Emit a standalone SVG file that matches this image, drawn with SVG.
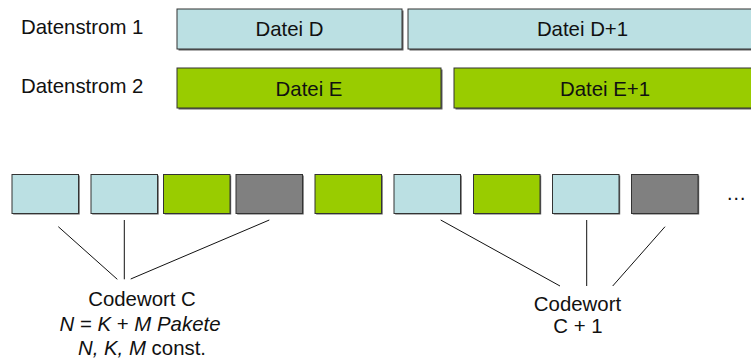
<svg xmlns="http://www.w3.org/2000/svg" width="751" height="360" viewBox="0 0 751 360">
<defs>
<style>
text{font-family:"Liberation Sans",Arial,sans-serif;font-size:20.4px;fill:#111;}
.c{text-anchor:middle;}
.i{font-style:italic;}
.sh{fill:#5f5f5f;}
.blue{fill:#BBE0E3;stroke:#333;stroke-width:1;}
.green{fill:#99CC00;stroke:#333;stroke-width:1;}
.gray{fill:#808080;stroke:#333;stroke-width:1;}
.ln{stroke:#111;stroke-width:1;fill:none;}
</style>
</defs>
<rect width="751" height="360" fill="#fff"/>
<g id="label-stream1"><text x="21" y="33.5">Datenstrom 1</text></g>
<g id="label-stream2"><text x="21" y="93">Datenstrom 2</text></g>
<g id="file-D"><rect class="sh" x="178.5" y="10.5" width="225" height="40"/><rect class="blue" x="177" y="9" width="225" height="40"/><text class="c" x="289.5" y="36">Datei D</text></g>
<g id="file-D1"><rect class="sh" x="409.5" y="10.5" width="349" height="40"/><rect class="blue" x="408" y="9" width="349" height="40"/><text class="c" x="582.5" y="36">Datei D+1</text></g>
<g id="file-E"><rect class="sh" x="178.5" y="69.5" width="264" height="40"/><rect class="green" x="177" y="68" width="264" height="40"/><text class="c" x="309" y="95.5">Datei E</text></g>
<g id="file-E1"><rect class="sh" x="455.5" y="69.5" width="302" height="40"/><rect class="green" x="454" y="68" width="302" height="40"/><text class="c" x="605" y="95.5">Datei E+1</text></g>
<g id="packets">
<g id="p1"><rect class="sh" x="13.2" y="175.5" width="66.5" height="39"/><rect class="blue" x="12" y="174.5" width="66.5" height="39"/></g>
<g id="p2"><rect class="sh" x="92.2" y="175.5" width="66.5" height="39"/><rect class="blue" x="91" y="174.5" width="66.5" height="39"/></g>
<g id="p3"><rect class="sh" x="164.7" y="175.5" width="66.5" height="39"/><rect class="green" x="163.5" y="174.5" width="66.5" height="39"/></g>
<g id="p4"><rect class="sh" x="237.2" y="175.5" width="66.5" height="39"/><rect class="gray" x="236" y="174.5" width="66.5" height="39"/></g>
<g id="p5"><rect class="sh" x="316.2" y="175.5" width="66.5" height="39"/><rect class="green" x="315" y="174.5" width="66.5" height="39"/></g>
<g id="p6"><rect class="sh" x="395.2" y="175.5" width="66.5" height="39"/><rect class="blue" x="394" y="174.5" width="66.5" height="39"/></g>
<g id="p7"><rect class="sh" x="474.7" y="175.5" width="66.5" height="39"/><rect class="green" x="473.5" y="174.5" width="66.5" height="39"/></g>
<g id="p8"><rect class="sh" x="553.7" y="175.5" width="66.5" height="39"/><rect class="blue" x="552.5" y="174.5" width="66.5" height="39"/></g>
<g id="p9"><rect class="sh" x="632.7" y="175.5" width="66.5" height="39"/><rect class="gray" x="631.5" y="174.5" width="66.5" height="39"/></g>
</g>
<g id="ellipsis"><text x="726" y="200">…</text></g>
<g id="connectors">
<line class="ln" x1="58.3" y1="226.7" x2="117.3" y2="279.3"/>
<line class="ln" x1="124.3" y1="220" x2="124.3" y2="279.3"/>
<line class="ln" x1="269.3" y1="220" x2="130.7" y2="279"/>
<line class="ln" x1="440.7" y1="220" x2="560" y2="286"/>
<line class="ln" x1="586.7" y1="220" x2="586.7" y2="286"/>
<line class="ln" x1="665" y1="226.7" x2="612.7" y2="286"/>
</g>
<g id="codeword-C">
<text class="c" x="142" y="305.5">Codewort C</text>
<text class="c" x="140" y="330.5"><tspan class="i">N</tspan> = <tspan class="i">K</tspan> + <tspan class="i">M Pakete</tspan></text>
<text class="c" x="142" y="355"><tspan class="i">N, K, M</tspan> const.</text>
</g>
<g id="codeword-C1">
<text class="c" x="577.5" y="311">Codewort</text>
<text class="c" x="578" y="333">C + 1</text>
</g>
</svg>
